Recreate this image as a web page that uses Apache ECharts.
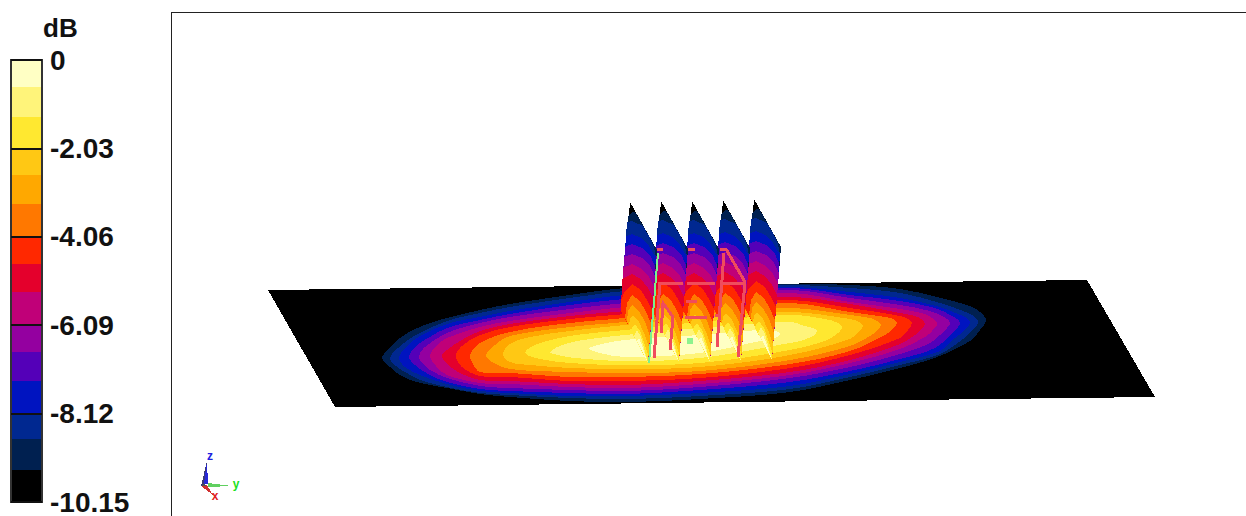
<!DOCTYPE html>
<html>
<head>
<meta charset="utf-8">
<title>dB pattern</title>
<script src="https://cdn.jsdelivr.net/npm/echarts@6/dist/echarts.min.js"></script>
<style>
  html, body { margin: 0; padding: 0; background: #fff; }
  #main { width: 1246px; height: 516px; }
  /* the original is an aliased OpenGL capture */
  #main svg path { shape-rendering: crispEdges; }
</style>
</head>
<body>
<div id="main"></div>
<script>
// colour scale, top band first
const bandColors = ['#FFFFC4', '#FFF47A', '#FFE830', '#FFC814', '#FFA800', '#FF7800', '#FF2800', '#E4002C',
  '#C00078', '#9400A0', '#5400B8', '#0014C0', '#002890', '#002050', '#000000'];
const bandEdges = [0, -0.62, -1.30, -2.03, -2.63, -3.31, -4.06, -4.69, -5.33, -6.09, -6.70, -7.38, -8.12, -8.71, -9.42, -10.15];

// ground plane, scene units
const planeCorners = [[268, 290], [1087, 280], [1155, 397], [335, 407]];

// plane contours, outermost (navy) first
const planeContours = [
  [[382,358],[390,348],[400,338],[413,330],[430,323],[447,318],[480,310],[510,304],[570,295],[625,288],[700,285],[790,284],[850,285],[900,289],[937,297],[970,306],[980,312],[986,320],[980,330],[970,341],[937,357],[900,368],[850,380],[790,392],[700,399],[625,402],[570,401],[510,397],[480,394],[447,388],[430,385],[413,381],[400,375],[390,367]],
  [[390,358],[398,348],[408,340],[420,333],[447,321],[480,313],[510,307],[570,298],[625,291],[700,287],[790,285],[850,288],[900,293],[940,303],[963,311],[972,315],[978,322],[972,331],[963,339],[940,354],[900,365],[850,377],[790,389],[700,396],[625,399],[570,398],[510,395],[480,393],[447,387],[420,380],[405,372],[396,366]],
  [[399,358],[405,348],[420,336],[447,324],[480,317],[510,311],[570,302],[625,295],[700,291],[790,287],[850,292],[900,298],[940,307],[958,314],[965,317],[970,322],[965,330],[955,338],[940,351],[900,362],[850,374],[790,386],[700,393],[625,396],[570,396],[510,393],[480,391],[447,384],[420,375],[405,367]],
  [[409,357],[415,347],[428,338],[447,328],[480,320],[510,314],[570,305],[625,299],[700,294],[790,288],[850,295],[900,301],[935,308],[952,316],[960,323],[952,333],[935,348],[900,359],[850,371],[790,382],[700,390],[625,394],[570,393],[510,391],[480,389],[447,382],[428,374],[415,365]],
  [[419,357],[425,347],[447,333],[480,323],[510,317],[570,309],[625,303],[700,297],[790,290],[850,298],[900,305],[930,311],[944,317],[950,323],[944,331],[930,343],[900,354],[850,367],[790,378],[700,387],[625,391],[570,390],[510,388],[480,386],[447,378],[430,370],[424,365]],
  [[430,356],[436,346],[447,338],[480,327],[510,321],[570,313],[625,307],[700,300],[790,293],[850,302],[900,309],[925,314],[932,318],[937,324],[932,331],[925,337],[900,349],[850,363],[790,375],[700,384],[625,388],[570,387],[510,384],[480,383],[447,375],[436,366]],
  [[442,356],[447,350],[460,341],[480,331],[510,324],[570,316],[625,311],[700,303],[790,297],[850,304],[900,313],[915,316],[921,319],[925,324],[921,330],[915,335],[900,344],[850,360],[790,372],[700,381],[625,385],[570,384],[510,381],[480,380],[460,373],[447,364]],
  [[456,356],[462,346],[480,335],[510,327],[570,319],[625,314],[700,306],[790,300],[850,308],[900,316],[908,319],[912,323],[908,330],[900,338],[850,355],[790,368],[700,378],[625,381],[570,381],[510,377],[480,376],[462,367]],
  [[470,355],[480,343],[510,332],[570,323],[625,318],[700,310],[790,303],[850,312],[885,317],[893,319],[897,323],[893,329],[885,335],[850,351],[790,364],[700,374],[625,377],[570,377],[510,373],[480,372],[473,364]],
  [[486,355],[495,345],[510,336],[570,327],[625,322],[700,314],[790,308],[850,315],[870,318],[877,321],[881,325],[877,331],[870,336],[850,346],[790,360],[700,371],[625,373],[570,372],[510,369],[492,362]],
  [[503,354],[510,344],[530,337],[570,331],[625,325],[700,318],[790,312],[850,319],[859,322],[863,326],[859,332],[850,339],[790,355],[700,367],[625,369],[570,368],[530,365],[510,362]],
  [[525,353],[535,345],[570,336],[625,330],[700,322],[790,315],[825,319],[838,323],[842,327],[838,333],[825,341],[790,350],[700,363],[625,365],[570,363],[540,359]],
  [[550,352],[565,344],[590,339],[625,335],[700,328],[790,322],[805,326],[813,328],[817,331],[813,336],[800,341],[790,343],[700,358],[625,361],[575,358],[558,355]],
  [[589,348],[625,340],[700,335],[760,330],[775,331],[780,334],[775,338],[760,341],[700,353],[625,357],[600,353]]
];

// vertical slice, first fin; the others are shifted copies
const finQuad = [[630,202],[657,250],[648,363],[621,311]];
const finContours = [
  [[628,216],[633,212],[636,213],[657,250],[648,363],[621,311]],
  [[627,222],[632,221],[643,226],[650,238],[654,247],[656,258],[648,363],[621,311]],
  [[626,236],[632,234],[641,238],[649,246],[656,258],[648,363],[621,311]],
  [[625,247],[632,244],[642,248],[650,255],[655,266],[648,363],[621,311]],
  [[624,257],[632,254],[642,258],[650,266],[655,276],[648,363],[621,311]],
  [[623,268],[632,264],[642,269],[649,277],[654,287],[648,363],[621,311]],
  [[622,279],[632,274],[641,279],[648,288],[653,298],[648,363],[621,311]],
  [[621,300],[625,291],[632,284],[641,290],[647,300],[652,310],[648,363],[621,311]],
  [[625,318],[627,303],[632,295],[640,301],[646,312],[651,323],[648,363]],
  [[627,322],[628,311],[632,305],[639,311],[645,322],[650,336],[648,363]],
  [[629,326],[630,319],[633,315],[639,322],[644,333],[649,347],[648,363]],
  [[631,331],[632,327],[635,324],[640,331],[644,342],[648,354],[648,363]],
  [[634,336],[637,330],[641,337],[644,348],[648,363]],
  [[637,341],[639,338],[642,345],[644,352],[648,363]]
];
const finShifts = [[0, 0], [31, -1], [62, -1], [93, -2], [124, -3]];

// wire model
const redWires = [
  [[657,249],[663,249]], [[688,249],[695,249]], [[720,249],[726,249],[745,282],[738,357]],
  [[724,253],[717,347]], [[658,283],[683,283]], [[687,283],[715,283]], [[720,283],[746,283]],
  [[660,283],[654,358]], [[686,301],[697,301]], [[685,317],[707,317]], [[715,315],[720,315]],
  [[661,333],[663,303],[673,317],[670,350]]
];
const greenWires = [[[658,253],[649,363]]];
const feedPoint = [[690, 341]];

// small xyz triad, bottom left
const triadCones = [
  { color: '#3A3A78', points: [[207,461],[201,486],[204,484]] },
  { color: '#2828D8', points: [[207,461],[204,484],[208,484]] },
  { color: '#60D060', points: [[208,483],[232,486],[208,487]] },
  { color: '#D03030', points: [[201,486],[213,495],[207,485]] },
  { color: '#505050', points: [[201,486],[204,484],[207,486]] }
];
const triadLabels = [
  { text: 'z', color: '#2020E0', at: [210, 456] },
  { text: 'y', color: '#20E020', at: [236, 484] },
  { text: 'x', color: '#E02020', at: [215, 496] }
];

function indexes(list) {
  return list.map((d, i) => [i]);
}

function polygonItem(api, points, color, smooth) {
  return {
    type: 'polygon',
    shape: { points: points.map(p => api.coord(p)), smooth: smooth || 0 },
    style: { fill: color }
  };
}

function wireItem(api, points, color, width) {
  return {
    type: 'polyline',
    shape: { points: points.map(p => api.coord(p)) },
    style: { fill: 'none', stroke: color, lineWidth: width }
  };
}

const chart = echarts.init(document.getElementById('main'), null, { renderer: 'svg' });
chart.setOption({
  animation: false,
  title: {
    text: 'dB',
    left: 38,
    top: 10,
    textStyle: { fontFamily: 'Liberation Sans', fontSize: 26, fontWeight: 'bold', color: '#111' }
  },
  grid: [
    { left: 11, top: 60, width: 31, height: 444 },
    { left: 171, top: 12, width: 1075, height: 504 }
  ],
  xAxis: [
    { gridIndex: 0, type: 'value', min: 0, max: 1, show: false },
    {
      gridIndex: 1, type: 'value', min: 171, max: 1246, position: 'top',
      axisLine: { show: true, onZero: false, lineStyle: { color: '#222', width: 1 } },
      axisTick: { show: false }, axisLabel: { show: false }, splitLine: { show: false }
    }
  ],
  yAxis: [
    {
      gridIndex: 0, type: 'value', min: -10.15, max: 0, interval: 2.03, position: 'right', z: 5,
      axisLine: { show: false }, axisTick: { show: false },
      splitLine: { show: true, lineStyle: { color: '#111', width: 2 } },
      axisLabel: {
        show: true, margin: 8,
        fontFamily: 'Liberation Sans', fontSize: 28, fontWeight: 'bold', color: '#111',
        formatter: v => (v === 0 ? '0' : v.toFixed(2))
      }
    },
    {
      gridIndex: 1, type: 'value', min: 12, max: 516, inverse: true, position: 'left',
      axisLine: { show: true, onZero: false, lineStyle: { color: '#222', width: 1 } },
      axisTick: { show: false }, axisLabel: { show: false }, splitLine: { show: false }
    }
  ],
  series: [
    {
      // colour bar
      type: 'custom', name: 'bands', xAxisIndex: 0, yAxisIndex: 0, z: 2, silent: true,
      data: indexes(bandColors),
      renderItem(params, api) {
        const i = api.value(0);
        const a = api.coord([0, bandEdges[i]]);
        const b = api.coord([1, bandEdges[i + 1]]);
        return {
          type: 'rect',
          shape: { x: a[0], y: a[1], width: b[0] - a[0], height: b[1] - a[1] },
          style: { fill: bandColors[i] }
        };
      }
    },
    {
      // colour bar frame
      type: 'custom', name: 'bandFrame', xAxisIndex: 0, yAxisIndex: 0, z: 3, silent: true,
      data: [[0]],
      renderItem(params, api) {
        const a = api.coord([0, 0]);
        const b = api.coord([1, -10.15]);
        return {
          type: 'rect',
          shape: { x: a[0], y: a[1], width: b[0] - a[0], height: b[1] - a[1] },
          style: { fill: 'none', stroke: '#333', lineWidth: 2 }
        };
      }
    },
    {
      // ground plane with contours
      type: 'custom', name: 'plane', xAxisIndex: 1, yAxisIndex: 1, z: 2, silent: true,
      data: [[0]],
      renderItem(params, api) {
        const children = [polygonItem(api, planeCorners, '#000000')];
        planeContours.forEach((points, i) => {
          children.push(polygonItem(api, points, bandColors[bandColors.length - 2 - i], 0.35));
        });
        return { type: 'group', children };
      }
    },
    {
      // slices, last one first so that the first one ends on top
      type: 'custom', name: 'fins', xAxisIndex: 1, yAxisIndex: 1, z: 3, silent: true,
      data: indexes(finShifts).reverse(),
      renderItem(params, api) {
        const shift = finShifts[api.value(0)];
        const move = points => points.map(p => [p[0] + shift[0], p[1] + shift[1]]);
        const children = [polygonItem(api, move(finQuad), '#000000')];
        finContours.forEach((points, i) => {
          children.push(polygonItem(api, move(points), bandColors[bandColors.length - 2 - i]));
        });
        return { type: 'group', children };
      }
    },
    {
      type: 'custom', name: 'redWires', xAxisIndex: 1, yAxisIndex: 1, z: 4, silent: true,
      data: indexes(redWires),
      renderItem(params, api) {
        return wireItem(api, redWires[api.value(0)], '#F04C5C', 3);
      }
    },
    {
      type: 'custom', name: 'greenWires', xAxisIndex: 1, yAxisIndex: 1, z: 4, silent: true,
      data: indexes(greenWires),
      renderItem(params, api) {
        return wireItem(api, greenWires[api.value(0)], '#7CF08C', 2);
      }
    },
    {
      type: 'scatter', name: 'feed', xAxisIndex: 1, yAxisIndex: 1, z: 5, silent: true,
      symbol: 'rect', symbolSize: 6,
      itemStyle: { color: '#70F080' },
      data: feedPoint
    },
    {
      type: 'custom', name: 'triad', xAxisIndex: 1, yAxisIndex: 1, z: 4, silent: true,
      data: indexes(triadCones),
      renderItem(params, api) {
        const cone = triadCones[api.value(0)];
        return polygonItem(api, cone.points, cone.color);
      }
    },
    {
      type: 'custom', name: 'triadLabels', xAxisIndex: 1, yAxisIndex: 1, z: 5, silent: true,
      data: indexes(triadLabels),
      renderItem(params, api) {
        const label = triadLabels[api.value(0)];
        const p = api.coord(label.at);
        return {
          type: 'text',
          x: p[0], y: p[1],
          style: {
            text: label.text, fill: label.color, align: 'center', verticalAlign: 'middle',
            fontFamily: 'Liberation Sans', fontSize: 12, fontWeight: 'bold'
          }
        };
      }
    }
  ]
});
</script>
</body>
</html>
